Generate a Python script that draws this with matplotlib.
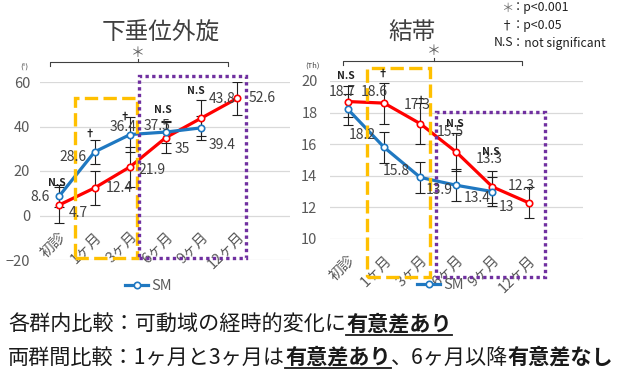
import matplotlib
matplotlib.use("Agg")
import matplotlib.pyplot as plt
from matplotlib.patches import Rectangle
from matplotlib.lines import Line2D

plt.rcParams['font.family'] = ['Noto Sans CJK JP', 'DejaVu Sans']

W, H = 617, 374
categories = ["初診", "1ヶ月", "3ヶ月", "6ヶ月", "9ヶ月", "12ヶ月"]

# 下垂位外旋
er_red = [4.7, 12.4, 21.9, 35, 43.8, 52.6]
er_red_err = [8, 7.7, 9, 7, 8, 7.5]
er_sm = [8.6, 28.6, 36.4, 37.5, 39.4]
er_sm_err = [5, 5.5, 8, 5, 5.5]
er_marks = ["N.S", "†", "†", "N.S", "N.S", ""]

# 結帯
ib_red = [18.7, 18.6, 17.3, 15.5, 13.3, 12.3]
ib_red_err = [1.0, 1.3, 1.3, 1.2, 1.0, 1.0]
ib_sm = [18.2, 15.8, 13.9, 13.4, 13.0]
ib_sm_err = [1.0, 1.0, 1.0, 1.0, 0.9]
ib_marks = ["N.S", "†", "†", "N.S", "N.S", ""]

BLUE = "#1f78c1"
RED = "#ff0000"
GRID = "#d9d9d9"
TXT = "#404040"
TICK = "#595959"
GOLD = "#ffc000"
PURP = "#7030a0"

fig = plt.figure(figsize=(W / 100, H / 100), dpi=100)

def fx(x):
    return x / W

def fy(y):
    return 1 - y / H

def make_ax(l, r, t, b, pad):
    ax = fig.add_axes([fx(l), fy(b), fx(r) - fx(l), fy(t) - fy(b)])
    for s in ax.spines.values():
        s.set_visible(False)
    ax.tick_params(axis='both', length=0, labelsize=10.5, labelcolor=TICK, pad=pad)
    ax.set_xticks([])
    ax.grid(axis='y', color=GRID, lw=0.9)
    ax.set_axisbelow(True)
    return ax

def draw_series(ax, vals, errs, color):
    x = list(range(len(vals)))
    ax.errorbar(x, vals, yerr=errs, fmt='none', ecolor='#202020', elinewidth=0.8,
                capsize=3.5, capthick=0.8, zorder=3)
    ln, = ax.plot(x, vals, color=color, lw=2.3, marker='o', ms=4.6, mfc='white',
                  mec=color, mew=1.2, zorder=4)
    return ln

def label(ax, x, y, s, dx, dy, size=10):
    ax.annotate(s, (x, y), xytext=(dx, -dy), textcoords='offset pixels',
                ha='center', va='center', fontsize=size, color=TXT, zorder=6,
                annotation_clip=False)

def cat_labels(ax, ybase, dx, dy):
    for i, c in enumerate(categories):
        ax.annotate(c, (i, ybase), xytext=(dx, -dy), textcoords='offset pixels',
                    ha='right', va='center', rotation=45, rotation_mode='anchor',
                    fontsize=10.5, color=TICK, annotation_clip=False)

def box(ax, x0, x1, y0, y1, color, ls):
    ax.add_patch(Rectangle((x0, y0), x1 - x0, y1 - y0, fill=False, ec=color,
                           lw=2.4, ls=ls, clip_on=False, zorder=5))

# ---------- left chart ----------
ax1 = make_ax(40, 290, 82, 260, 7)
ax1.set_ylim(-20, 60)
ax1.set_yticks([-20, 0, 20, 40, 60])
ax1.set_xlim(-0.534, 6.49)
r1 = draw_series(ax1, er_red, er_red_err, RED)
b1 = draw_series(ax1, er_sm, er_sm_err, BLUE)
cat_labels(ax1, 0, 5, 19)
box(ax1, 0.45, 2.19, -19.2, 52.6, GOLD, (0, (4, 1.6)))
box(ax1, 2.25, 5.25, -19.2, 62.7, PURP, (0, (1, 1)))

er_red_off = [(19, 8), (25, 0), (22, 3), (17, 11), (21, -19), (25, 0)]
er_sm_off = [(-19, 1), (-22, 5), (-7, -8), (-9, -6), (21, 17)]
for i, v in enumerate(er_red):
    label(ax1, i, v, f"{v:g}", *er_red_off[i])
for i, v in enumerate(er_sm):
    label(ax1, i, v, f"{v:g}", *er_sm_off[i])
er_mark_pos = [(57, 183), (90, 134), (125, 117), (163, 110), (196, 91)]
for (px, py), m in zip(er_mark_pos, er_marks):
    fig.text(fx(px), fy(py), m, ha='center', va='center', fontsize=7.5,
             color='#202020', fontweight='bold')

# ---------- right chart ----------
ax2 = make_ax(330, 583, 81, 239, 9)
ax2.set_ylim(10, 20)
ax2.set_yticks([10, 12, 14, 16, 18, 20])
ax2.set_xlim(-0.5, 6.51)
r2 = draw_series(ax2, ib_red, ib_red_err, RED)
b2 = draw_series(ax2, ib_sm, ib_sm_err, BLUE)
cat_labels(ax2, 10, 5, 19)
box(ax2, 0.53, 2.27, 7.6, 20.83, GOLD, (0, (4, 1.6)))
box(ax2, 2.44, 5.46, 7.6, 18.02, PURP, (0, (1, 1)))

ib_red_off = [(-6, -10), (-10, -11), (-3, -19), (-6, -20), (-3, -28), (-7, -17)]
ib_sm_off = [(14, 26), (12, 24), (19, 13), (21, 13), (14, 15)]
for i, v in enumerate(ib_red):
    label(ax2, i, v, f"{v:g}", *ib_red_off[i])
for i, v in enumerate(ib_sm):
    label(ax2, i, v, f"{v:g}", *ib_sm_off[i])
ib_mark_pos = [(346, 76), (383, 74), (421, 101), (455, 124), (491, 152)]
for (px, py), m in zip(ib_mark_pos, ib_marks):
    fig.text(fx(px), fy(py), m, ha='center', va='center', fontsize=7.5,
             color='#202020', fontweight='bold')

# legends (SM only)
for ax, (lx, ly) in ((ax1, (125, 286)), (ax2, (417, 285))):
    ax.legend([b1], ["SM"], loc='center left', bbox_to_anchor=(fx(lx), fy(ly)),
              bbox_transform=fig.transFigure, frameon=False, fontsize=10.5,
              handlelength=1.6, handletextpad=0.2, borderpad=0, borderaxespad=0,
              labelcolor=TICK)

# titles
fig.text(fx(161), fy(32), "下垂位外旋", ha='center', va='center', fontsize=17, color=TXT)
fig.text(fx(412), fy(32), "結帯", ha='center', va='center', fontsize=17, color=TXT)

# units
fig.text(fx(24), fy(68), "(°)", ha='center', va='center', fontsize=5.5, color=TXT)
fig.text(fx(313), fy(66), "(Th)", ha='center', va='center', fontsize=5.5, color=TXT)

# significance brackets
for x0, x1, xc, yl, ys in ((50, 228, 138, 62, 53), (343, 522, 434, 61, 51)):
    fig.add_artist(Line2D([fx(x0), fx(x0), fx(x1), fx(x1)],
                          [fy(yl + 4), fy(yl), fy(yl), fy(yl + 4)],
                          color='#404040', lw=0.8))
    fig.add_artist(Line2D([fx(xc), fx(xc)], [fy(yl), fy(yl - 3)], color='#404040', lw=0.8))
    fig.text(fx(xc), fy(ys), "＊", ha='center', va='center', fontsize=10, color='#606060')

# significance key
key = [("＊", "p<0.001", 8), ("†", "p<0.05", 26), ("N.S", "not significant", 43)]
for sym, desc, y in key:
    fig.text(fx(513), fy(y), sym, ha='right', va='center', fontsize=8.8,
             color='#707070' if sym == "＊" else '#202020')
    fig.text(fx(512), fy(y), "：" + desc, ha='left', va='center', fontsize=8.8, color='#202020')

# bottom text with bold / underlined parts
renderer = fig.canvas.get_renderer()

def rich_line(parts, x, y):
    cur = x
    for s, bold, ul in parts:
        t = fig.text(fx(cur), fy(y), s, ha='left', va='baseline', fontsize=15.2,
                     color='#1a1a1a', fontweight='bold' if bold else 'normal')
        bb = t.get_window_extent(renderer)
        w = bb.width
        if ul:
            fig.add_artist(Line2D([fx(cur), fx(cur + w)], [fy(y + 4), fy(y + 4)],
                                  color='#1a1a1a', lw=1.3))
        cur += w

rich_line([("各群内比較：可動域の経時的変化に", False, False),
           ("有意差あり", True, True)], 8, 331)
rich_line([("両群間比較：1ヶ月と3ヶ月は", False, False),
           ("有意差あり", True, True),
           ("、6ヶ月以降", False, False),
           ("有意差なし", True, False)], 8, 364)

fig.savefig("out.png", dpi=100)
